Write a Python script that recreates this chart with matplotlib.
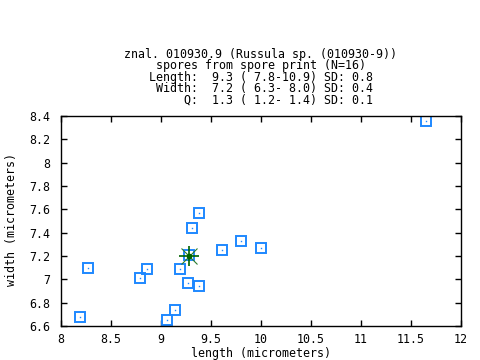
import matplotlib
matplotlib.use("Agg")
import matplotlib.pyplot as plt

# data
length = [8.19, 8.27, 8.79, 8.86, 9.19, 9.27, 9.38, 9.31, 9.38, 9.14, 9.06,
          9.28, 9.61, 9.80, 10.00, 11.65]
width = [6.68, 7.10, 7.01, 7.09, 7.09, 6.97, 6.94, 7.44, 7.57, 6.74, 6.65,
         7.21, 7.25, 7.33, 7.27, 8.36]
mean_length = [9.28]
mean_width = [7.20]

title_lines = [
    "znal. 010930.9 (Russula sp. (010930-9))",
    "spores from spore print (N=16)",
    "Length:  9.3 ( 7.8-10.9) SD: 0.8",
    " Width:  7.2 ( 6.3- 8.0) SD: 0.4",
    "     Q:  1.3 ( 1.2- 1.4) SD: 0.1",
]
xticks = [8, 8.5, 9, 9.5, 10, 10.5, 11, 11.5, 12]
xticklabels = ["8", "8.5", "9", "9.5", "10", "10.5", "11", "11.5", "12"]
yticks = [6.6, 6.8, 7.0, 7.2, 7.4, 7.6, 7.8, 8.0, 8.2, 8.4]
yticklabels = ["6.6", "6.8", "7", "7.2", "7.4", "7.6", "7.8", "8", "8.2", "8.4"]

FONT = "DejaVu Sans Mono"
FS = 8.4

W, H = 480, 360
fig = plt.figure(figsize=(4.8, 3.6), dpi=100)
ax = fig.add_axes([61 / W, 1 - 326 / H, 400 / W, 210 / H])

blue = "#1e88ff"
ax.plot(length, width, linestyle="none", marker="s", markersize=7.8,
        markerfacecolor="none", markeredgecolor=blue, markeredgewidth=1.4)
ax.plot(length, width, linestyle="none", marker="s", markersize=1.0,
        markerfacecolor=blue, markeredgecolor=blue, markeredgewidth=0)

green = "#006400"
ax.plot(mean_length, mean_width, linestyle="none", marker="x", markersize=11,
        markeredgecolor="#2e7d2e", markeredgewidth=0.8)
ax.plot(mean_length, mean_width, linestyle="none", marker="+", markersize=15,
        markeredgecolor=green, markeredgewidth=1.2)
ax.plot(mean_length, mean_width, linestyle="none", marker="o", markersize=3,
        markerfacecolor=green, markeredgecolor=green)

ax.set_xlim(8, 12)
ax.set_ylim(6.6, 8.4)
ax.set_xticks(xticks)
ax.set_xticklabels(xticklabels, fontfamily=FONT, fontsize=FS)
ax.set_yticks(yticks)
ax.set_yticklabels(yticklabels, fontfamily=FONT, fontsize=FS)
ax.tick_params(axis="x", pad=5)
ax.tick_params(axis="y", pad=8)
ax.tick_params(direction="in", top=True, right=True, length=4.5, width=1,
               colors="black")
for s in ax.spines.values():
    s.set_linewidth(1)
    s.set_color("black")

ax.set_xlabel("length (micrometers)", fontfamily=FONT, fontsize=FS)
ax.xaxis.set_label_coords(0.5, (326 - 357) / 210)
ax.xaxis.label.set_va("baseline")
ax.set_ylabel("width (micrometers)", fontfamily=FONT, fontsize=FS)
ax.yaxis.set_label_coords((11.5 - 61) / 400, (326 - 219) / 210)
ax.yaxis.label.set_va("center")

fig.text(261 / W, 1 - 48 / H, "\n".join(title_lines), ha="center", va="top",
         multialignment="center", linespacing=0.84,
         fontfamily=FONT, fontsize=FS)

fig.savefig("out.png", dpi=100)
